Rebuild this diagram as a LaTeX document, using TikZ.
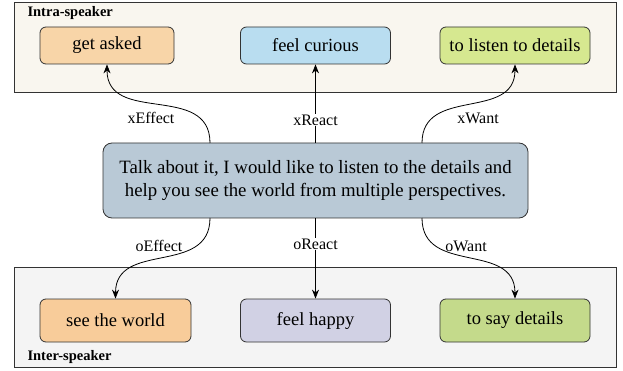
\documentclass[tikz,border=0pt]{standalone}
\usepackage{fontspec}
\setmainfont{Liberation Serif}
\usetikzlibrary{arrows.meta}

\definecolor{intrabg}{HTML}{F9F6EF}
\definecolor{interbg}{HTML}{F4F4F4}
\definecolor{rahmen}{HTML}{333333}
\definecolor{orangefill}{HTML}{F8D5A8}
\definecolor{orangedunkel}{HTML}{F8CC9A}
\definecolor{blaufill}{HTML}{B9DDF0}
\definecolor{gruenfill}{HTML}{D6E890}
\definecolor{gruendunkel}{HTML}{C4DA8B}
\definecolor{lilafill}{HTML}{D1D1E4}
\definecolor{graublau}{HTML}{B9C9D6}

\tikzset{
	panel/.style={draw=rahmen, line width=0.8pt},
	box/.style={draw=rahmen, line width=0.8pt, rounded corners=6pt, inner sep=0pt,
		font=\fontsize{18.5}{22}\selectfont},
	pfeil/.style={line width=0.8pt, -{Stealth[length=9pt,width=7pt]}},
	rel/.style={font=\fontsize{16}{19}\selectfont},
	titel/.style={anchor=west, font=\fontsize{14.5}{17}\selectfont\bfseries}
}

\begin{document}
\begin{tikzpicture}[x=1pt, y=-1pt]
	\useasboundingbox (0,0) rectangle (623,371);
	% Hintergrund
	\filldraw[panel, fill=intrabg] (14,2) rectangle (616,92.5);
	\filldraw[panel, fill=interbg] (14,267) rectangle (616,367);
	\node[titel] (intra) at (24,13) {Intra-speaker};
	\node[titel] (inter) at (24,357) {Inter-speaker};

	% Knoten oben
	\node[box, fill=orangefill, minimum width=134, minimum height=37] (asked) at (107,45.5) {get asked};
	\node[box, fill=blaufill, minimum width=150, minimum height=37] (curious) at (315.5,45.5) {feel curious};
	\node[box, fill=gruenfill, minimum width=150, minimum height=37] (listen) at (515,45.5) {to listen to details};

	% Aeusserung
	\node[box, fill=graublau, minimum width=425, minimum height=75, rounded corners=9pt,
		align=center, font=\fontsize{18.8}{23}\selectfont] (talk) at (315.5,180.5)
		{Talk about it, I would like to listen to the details and\\help you see the world from multiple perspectives.};

	% Knoten unten
	\node[box, fill=orangedunkel, minimum width=151, minimum height=43] (world) at (115.5,320.5) {see the world};
	\node[box, fill=lilafill, minimum width=150, minimum height=43] (happy) at (315.5,320.5) {feel happy};
	\node[box, fill=gruendunkel, minimum width=150, minimum height=43] (say) at (515,320.5) {to say details};

	% Startpunkte
	\coordinate (xe) at (210,143);
	\coordinate (xw) at (422,143);
	\coordinate (oe) at (210,218);
	\coordinate (ow) at (422,218);

	% Relationen
	\draw[pfeil] (xe) to[out=90, in=-90, looseness=1.2] (asked.south);
	\draw[pfeil] (talk.north) -- node[rel, fill=white, inner sep=1pt, pos=0.29] (xreact) {xReact} (curious.south);
	\draw[pfeil] (xw) to[out=90, in=-90, looseness=1.2] (listen.south);
	\draw[pfeil] (oe) to[out=-90, in=90, looseness=1.2] (world.north);
	\draw[pfeil] (talk.south) -- node[rel, fill=white, inner sep=1pt, pos=0.32] (oreact) {oReact} (happy.north);
	\draw[pfeil] (ow) to[out=-90, in=90, looseness=1.2] (say.north);

	\node[rel] (xeffect) at (151,118) {xEffect};
	\node[rel] (xwant) at (478,118) {xWant};
	\node[rel] (oeffect) at (159,246) {oEffect};
	\node[rel] (owant) at (466,246) {oWant};
\end{tikzpicture}
\end{document}
